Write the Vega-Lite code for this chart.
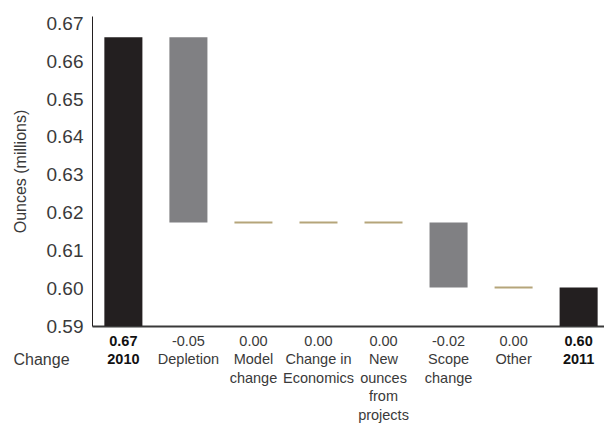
{
  "$schema": "https://vega.github.io/schema/vega-lite/v6.json",
  "width": 518,
  "height": 310,
  "autosize": {"type": "none"},
  "padding": {"left": 92, "top": 16, "right": 0, "bottom": 100},
  "config": {"view": {"stroke": null}, "font": "Liberation Sans", "axisY": {"labelOverlap": false}},
  "data": {
    "values": [
      {"step": "0.67|2010", "start": 0.59, "end": 0.6664, "kind": "total"},
      {"step": "-0.05|Depletion", "start": 0.6664, "end": 0.6174, "kind": "decrease"},
      {"step": "0.00|Model|change", "start": 0.6174, "end": 0.6174, "kind": "zero"},
      {"step": "0.00|Change in|Economics", "start": 0.6174, "end": 0.6174, "kind": "zero"},
      {"step": "0.00|New|ounces|from|projects", "start": 0.6174, "end": 0.6174, "kind": "zero"},
      {"step": "-0.02|Scope|change", "start": 0.6174, "end": 0.6002, "kind": "decrease"},
      {"step": "0.00|Other", "start": 0.6002, "end": 0.6002, "kind": "zero"},
      {"step": "0.60|2011", "start": 0.59, "end": 0.6002, "kind": "total"}
    ]
  },
  "encoding": {
    "x": {
      "field": "step",
      "type": "nominal",
      "sort": null,
      "scale": {"paddingInner": 0.415, "paddingOuter": 0.19},
      "axis": {
        "title": "Change",
        "titleX": -51,
        "titleY": 33,
        "titleAlign": "center",
        "titleBaseline": "middle",
        "titleFontSize": 16,
        "titleFontWeight": "normal",
        "titleColor": "#3a3a3a",
        "labelExpr": "split(datum.label, '|')",
        "labelAngle": 0,
        "labelFontSize": 14.5,
        "labelLineHeight": 18.5,
        "labelPadding": 8,
        "labelOverlap": false,
        "labelBound": false,
        "labelLimit": 0,
        "labelColor": {"condition": {"test": "indexof(datum.value, '201') >= 0", "value": "#111111"}, "value": "#3a3a3a"},
        "labelFontWeight": {"condition": {"test": "indexof(datum.value, '201') >= 0", "value": "bold"}, "value": "normal"},
        "ticks": false,
        "domainColor": "#3a3a3a",
        "domainWidth": 2
      }
    },
    "y": {
      "field": "start",
      "type": "quantitative",
      "scale": {"domain": [0.59, 0.672], "zero": false, "nice": false},
      "axis": {
        "title": "Ounces (millions)",
        "values": [0.59, 0.6, 0.61, 0.62, 0.63, 0.64, 0.65, 0.66, 0.67],
        "format": ".2f",
        "ticks": false,
        "grid": false,
        "labelOverlap": false,
        "labelFlush": false,
        "labelBound": false,
        "domainColor": "#231f20",
        "labelFontSize": 19,
        "labelColor": "#3a3a3a",
        "labelPadding": 9,
        "titleFontSize": 16,
        "titleFontWeight": "normal",
        "titleColor": "#3a3a3a",
        "titlePadding": 18
      }
    }
  },
  "layer": [
    {
      "mark": {"type": "bar"},
      "encoding": {
        "y2": {"field": "end"},
        "color": {
          "field": "kind",
          "type": "nominal",
          "scale": {"domain": ["total", "decrease", "zero"], "range": ["#231f20", "#808083", "#b5a57a"]},
          "legend": null
        }
      }
    },
    {
      "transform": [{"filter": "datum.kind == 'zero'"}],
      "mark": {"type": "tick", "orient": "horizontal", "thickness": 2, "size": 38, "color": "#b5a57a", "opacity": 1}
    }
  ]
}
